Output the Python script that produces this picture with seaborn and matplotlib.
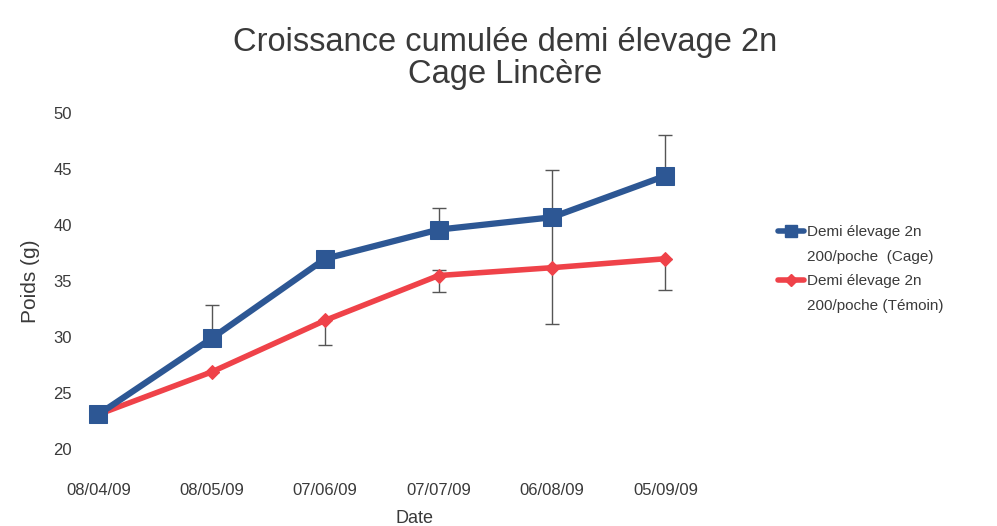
import numpy as np
import pandas as pd
import matplotlib
matplotlib.use('Agg')
import matplotlib.pyplot as plt
from matplotlib.lines import Line2D
import seaborn as sns

dates = ['08/04/09', '08/05/09', '07/06/09', '07/07/09', '06/08/09', '05/09/09']
cage = [23.1, 29.9, 37.0, 39.6, 40.7, 44.4]
temoin = [23.1, 26.9, 31.5, 35.5, 36.2, 37.0]
# barres d'erreur
cage_err_up = [0, 3.0, 0, 1.9, 4.2, 3.6]
temoin_err_down = [0, 0, 2.2, 1.5, 5.0, 2.8]
temoin_err_up = [0, 0, 0, 0.5, 4.5, 0]

legend_lines = ['Demi élevage 2n', '200/poche  (Cage)', 'Demi élevage 2n', '200/poche (Témoin)']

sns.set_theme(style='white')
plt.rcParams['font.family'] = ['Liberation Sans', 'DejaVu Sans']

df = pd.DataFrame({'idx': range(len(dates)), 'date': dates,
                   'cage': cage, 'temoin': temoin})

fig = plt.figure(figsize=(9.97, 5.26), dpi=100)
ax = fig.add_axes([0.085, 0.146, 0.662, 0.639])

blue = '#2d5794'
red = '#ef4249'
txt = '#3a3a3a'

# barres d'erreur derriere les courbes
ax.errorbar(df['idx'], df['cage'], yerr=[np.zeros(len(cage)), cage_err_up],
            fmt='none', ecolor='#555555', elinewidth=1, capsize=5, zorder=1)
ax.errorbar(df['idx'], df['temoin'], yerr=[temoin_err_down, temoin_err_up],
            fmt='none', ecolor='#555555', elinewidth=1, capsize=5, zorder=1)

sns.lineplot(data=df, x='idx', y='temoin', ax=ax, color=red, linewidth=4,
             marker='D', markersize=7, markeredgecolor=red, zorder=2, legend=False)
sns.lineplot(data=df, x='idx', y='cage', ax=ax, color=blue, linewidth=4.5,
             marker='s', markersize=13, markeredgecolor=blue, zorder=3, legend=False)

ax.set_ylim(20, 50)
ax.set_yticks(range(20, 51, 5))
ax.set_xlim(-0.12, 5.7)
ax.set_xticks(df['idx'])
ax.set_xticklabels(dates)
ax.tick_params(axis='x', pad=24, labelsize=12, colors=txt, length=0)
ax.tick_params(axis='y', pad=9, labelsize=12, colors=txt, length=0)
for s in ax.spines.values():
    s.set_visible(False)

ax.set_xlabel('Date', fontsize=13, color=txt, labelpad=9)
ax.set_ylabel('Poids (g)', fontsize=15, color=txt, labelpad=10)

# legende : chaque libelle sur deux lignes, symbole sur la premiere
h_blue = Line2D([], [], color=blue, linewidth=4, marker='s', markersize=8)
h_red = Line2D([], [], color=red, linewidth=4, marker='D', markersize=6)
h_none = Line2D([], [], color='none')
leg = fig.legend([h_blue, h_none, h_red, h_none], legend_lines,
                 loc='upper left', bbox_to_anchor=(778 / 997, 1 - 225 / 526),
                 frameon=False, fontsize=11, handlelength=1.7,
                 handletextpad=0.2, labelspacing=0.7, borderpad=0,
                 borderaxespad=0)
for t in leg.get_texts():
    t.set_color(txt)

fig.text(0.507, 0.889, 'Croissance cumulée demi élevage 2n\nCage Lincère',
         ha='center', va='center', fontsize=23.5, color=txt, linespacing=1.05)

fig.savefig('out.png', dpi=100)
